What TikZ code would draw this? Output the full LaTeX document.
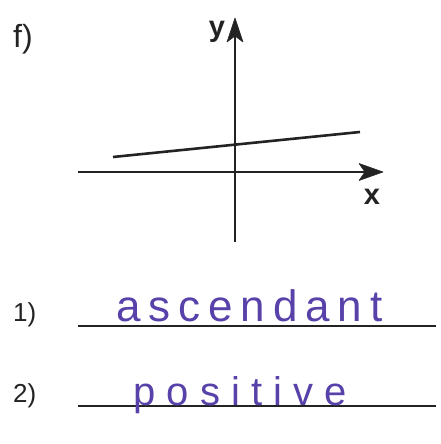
\documentclass[tikz,border=0pt]{standalone}
\usepackage{fontspec}
\setmainfont{Liberation Sans}
\newfontfamily\handA{Liberation Sans}[LetterSpace=18]
\newfontfamily\handB{Liberation Sans}[LetterSpace=28]
\definecolor{ink}{RGB}{88,66,170}
\definecolor{pencil}{RGB}{35,35,35}
\begin{document}
\begin{tikzpicture}[x=1pt,y=1pt,
  axis/.style={line width=1.6pt, draw=pencil},
  headfill/.style={fill=pencil, draw=pencil, line width=0.6pt, line join=round},
  graphline/.style={line width=2.6pt, draw=pencil},
  answerline/.style={line width=1.5pt, draw=pencil},
  lab/.style={inner sep=0pt, text=pencil},
  hand/.style={inner sep=0pt, text=ink, anchor=base west}]
\useasboundingbox (0,0) rectangle (441,444);
% axes
\coordinate (yb) at (235,202);
\coordinate (yt) at (235,426);
\coordinate (xl) at (78,272);
\coordinate (xr) at (383,272);
\draw[axis] (yb) -- ([yshift=-10pt]yt);
\draw[axis] (xl) -- ([xshift=-10pt]xr);
\filldraw[headfill] (yt) -- ++(-8,-24) -- ++(8,6) -- ++(8,-6) -- cycle;
\filldraw[headfill] (xr) -- ++(-24,8.5) -- ++(6,-8.5) -- ++(-6,-8.5) -- cycle;
% graph line
\coordinate (ga) at (113,287);
\coordinate (gb) at (360,312);
\draw[graphline] (ga) -- (gb);
% labels
\node[lab, anchor=base west, font=\fontsize{32}{32}\selectfont] (f) at (13,396) {f)};
\node[lab, anchor=base, font=\bfseries\fontsize{29}{29}\selectfont] (ylab) at (217,407) {y};
\node[lab, anchor=base, font=\bfseries\fontsize{29}{29}\selectfont] (xlab) at (372,239) {x};
% answer lines
\coordinate (l1a) at (78,118);
\coordinate (l1b) at (436,118);
\coordinate (l2a) at (78,38);
\coordinate (l2b) at (436,38);
\draw[answerline] (l1a) -- (l1b);
\draw[answerline] (l2a) -- (l2b);
\node[lab, anchor=base west, font=\fontsize{26}{26}\selectfont] (n1) at (13,122) {1)};
\node[lab, anchor=base west, font=\fontsize{26}{26}\selectfont] (n2) at (13,41) {2)};
% handwritten answers
\node[hand, font=\handA\fontsize{44}{44}\selectfont] (a1) at (116,122) {ascendant};
\node[hand, font=\handB\fontsize{40}{40}\selectfont] (a2) at (133,38) {positive};
\end{tikzpicture}
\end{document}
